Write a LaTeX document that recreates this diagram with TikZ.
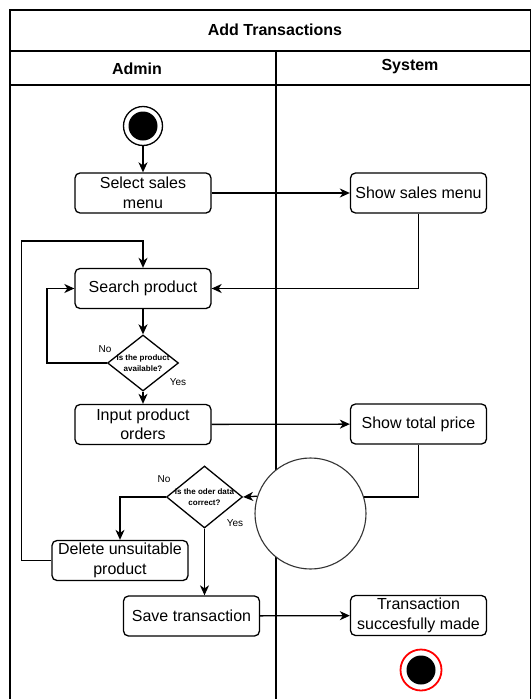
\documentclass[tikz,border=0pt]{standalone}
\usepackage{fontspec}
\setmainfont{Liberation Sans}
\usetikzlibrary{arrows.meta,shapes.geometric}

\begin{document}
\begin{tikzpicture}[x=1pt,y=-1pt,line width=1.3pt,
    >={Stealth[length=10pt,width=9pt,inset=3pt]},
    action/.style={rectangle,rounded corners=5pt,draw,align=center,
      minimum width=136pt,minimum height=40pt,inner sep=2pt,
      font=\fontsize{16}{19.5}\selectfont},
    decision/.style={diamond,draw,inner sep=0pt,
      label={[align=center,font=\fontsize{8}{11}\selectfont\bfseries]center:#1}},
    startnode/.style={circle,draw,line width=1.3pt,minimum size=39pt,
      path picture={\fill[black] (path picture bounding box.center) circle (14.5pt);}},
    guard/.style={font=\fontsize{10}{12}\selectfont}]
  \useasboundingbox (0,0) rectangle (531,699);
  \clip (0,0) rectangle (531,699);

  % swimlanes
  \draw (10,10) rectangle (530.5,720);
  \draw (10,51) -- (530.5,51);
  \draw (10,85) -- (530.5,85);
  \draw (276,51) -- (276,720);
  \node[font=\fontsize{16}{19}\selectfont\bfseries] (title) at (275,30) {Add Transactions};
  \node[font=\fontsize{16}{19}\selectfont\bfseries] (admin) at (137,69) {Admin};
  \node[font=\fontsize{16}{19}\selectfont\bfseries] (system) at (410,67) {System};

  \begin{scope}
    \node[startnode] (start) at (143,126) {};
    \node[action] (select) at (143,193) {Select sales\\menu};
    \node[action] (salesmenu) at (418.5,193) {Show sales menu};
    \node[action] (search) at (143,288.5) {Search product};
    \node[decision={Is the product\\available?},minimum width=71pt,minimum height=56pt] (available) at (143,363) {};
    \node[action] (input) at (143,424.5) {Input product\\orders};
    \node[action] (total) at (418.5,424) {Show total price};
    \node[circle,draw=black!80,fill=white,line width=1.1pt,minimum size=111pt] (merge) at (310.5,513.5) {};
    \node[decision={Is the oder data\\correct?},minimum width=76pt,minimum height=62pt] (correct) at (204.5,497) {};
    \node[action] (delete) at (120,560.5) {Delete unsuitable\\product};
    \node[action] (save) at (191.5,616) {Save transaction};
    \node[action] (made) at (418.5,615.5) {Transaction\\succesfully made};
    \node[startnode,draw=red,line width=1.8pt,minimum size=41pt] (finish) at (421,670) {};
  \end{scope}

  \node[guard] (no1) at (105,349) {No};
  \node[guard] (yes1) at (178,382) {Yes};
  \node[guard] (no2) at (164,479) {No};
  \node[guard] (yes2) at (235,523) {Yes};

  \begin{scope}
    \draw[->] (start) -- (select);
    \draw[->] (select) -- (salesmenu);
    \draw[->] (salesmenu) |- (search);
    \draw[->] (search) -- (available);
    \draw[->] (available.west) -- ++(-60,0) |- (search.west);
    \draw[->] (available) -- (input);
    \draw[->] (input) -- (total);
    \draw (total.south) |- (merge.17.5);
    \draw[->] (merge.162.5) -- (correct.east);
    \draw[->] (correct.west) -| (delete.north);
    \draw[->] (correct.south) -- (correct.south |- save.north);
    \draw[->] (delete.west) -- ++(-30,0) |- ([yshift=27pt]search.north) -- (search.north);
    \draw[->] (save) -- (made);
  \end{scope}
\end{tikzpicture}
\end{document}
